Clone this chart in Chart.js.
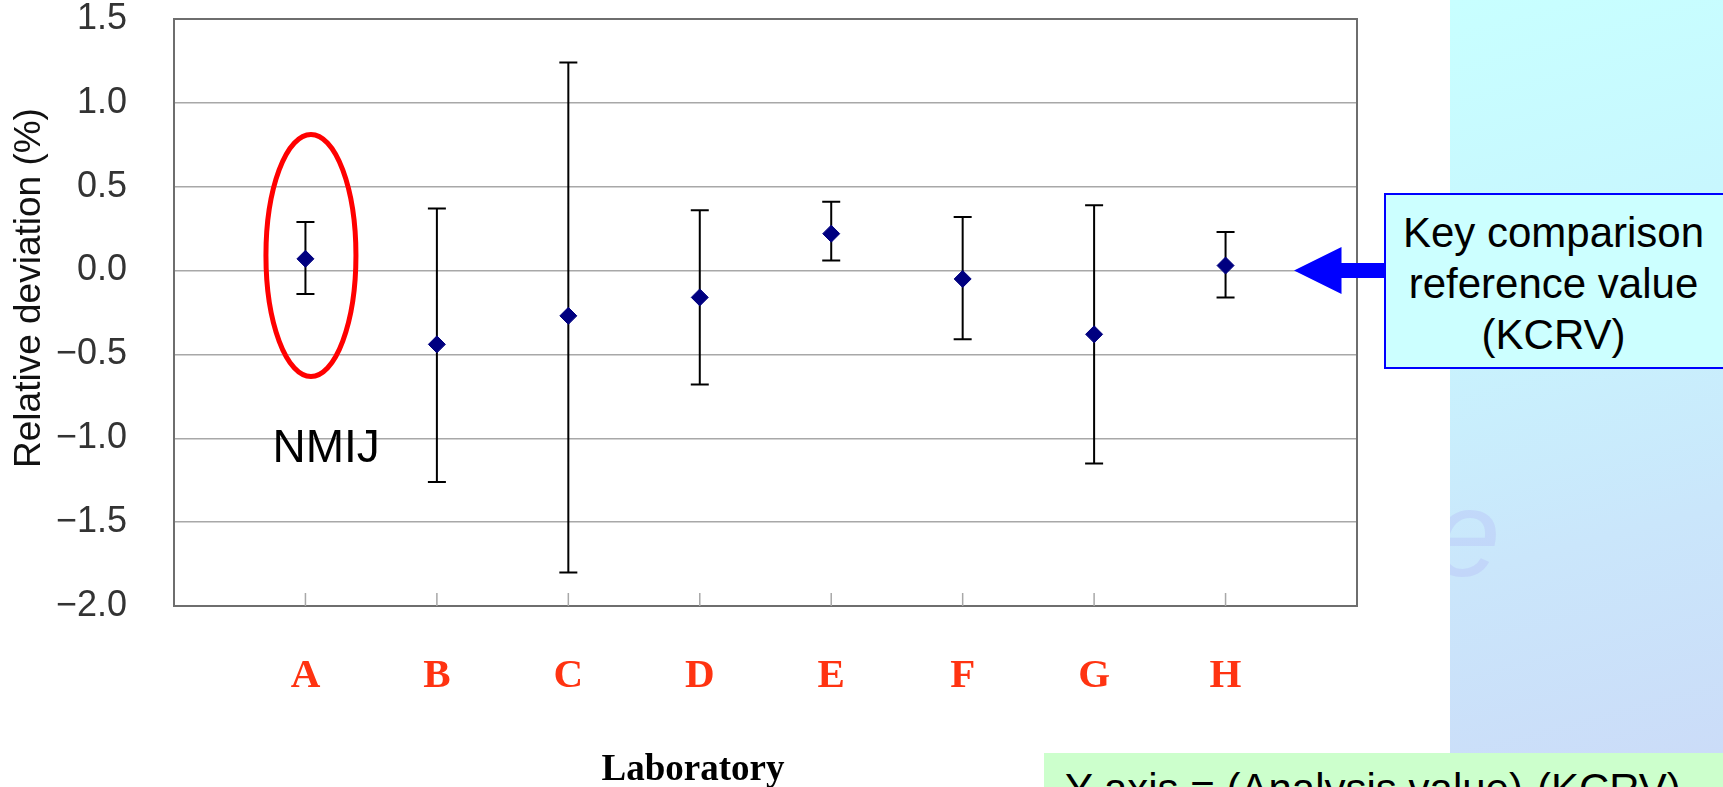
<!DOCTYPE html>
<html>
<head>
<meta charset="utf-8">
<title>Relative deviation by laboratory</title>
<script src="https://cdn.jsdelivr.net/npm/chart.js@4.4.0/dist/chart.umd.min.js"></script>
<style>
html, body { margin: 0; padding: 0; width: 1723px; height: 787px; overflow: hidden; background: #fff; }
#side {
  position: absolute; left: 1450px; top: 0; width: 273px; height: 753px; overflow: hidden;
  background: linear-gradient(165deg, #c8ffff 0%, #c8f6fe 35%, #cae6fb 70%, #cbdcf8 100%);
}
#side .mark {
  position: absolute; left: -18px; top: 472px;
  font: italic 123px "Liberation Sans", Arial, sans-serif; line-height: 123px;
  color: rgba(176, 178, 245, 0.3);
}
#plot { position: absolute; left: 0; top: 0; z-index: 1; }
#kcrv {
  position: absolute; left: 1384px; top: 193px; width: 342px; height: 176px;
  box-sizing: border-box; border: 2px solid #0000ff; background: #ccffff; z-index: 2;
  padding: 11.7px 3px 0 0;
  font: 42px "Liberation Sans", Arial, sans-serif; line-height: 51px; text-align: center; color: #000;
}
#note {
  position: absolute; left: 1044px; top: 753px; width: 690px; height: 60px;
  box-sizing: border-box; background: #ccffcc; z-index: 2;
  padding: 10px 0 0 21px; white-space: nowrap;
  font: 42px "Liberation Sans", Arial, sans-serif; line-height: 51px; color: #000;
}
</style>
</head>
<body>
<div id="side"><span class="mark">e</span></div>
<canvas id="plot" width="1723" height="787"></canvas>
<div id="kcrv">Key comparison<br>reference value<br>(KCRV)</div>
<div id="note">Y axis = (Analysis value)-(KCRV)</div>

<script>
'use strict';

// laboratories and their relative deviation from the KCRV (%), with uncertainty limits
const labs  = ['A', 'B', 'C', 'D', 'E', 'F', 'G', 'H'];
const devs  = [0.07, -0.44, -0.27, -0.16, 0.22, -0.05, -0.38, 0.03];
const lows  = [-0.14, -1.26, -1.80, -0.68, 0.06, -0.41, -1.15, -0.16];
const highs = [0.29, 0.37, 1.24, 0.36, 0.41, 0.32, 0.39, 0.23];
const yTicks = [-2.0, -1.5, -1.0, -0.5, 0.0, 0.5, 1.0, 1.5];
const kcrv = 0;

const sans = '"Liberation Sans", Arial, sans-serif';
const serif = '"Liberation Serif", "Times New Roman", serif';

// error bars, frame, inner ticks and the annotations around the plot
const extras = {
  id: 'extras',
  beforeDatasetsDraw(chart){
    const {ctx, chartArea: a, scales: {x, y}} = chart;
    ctx.save();

    // plot frame
    ctx.strokeStyle = '#6e6e6e';
    ctx.lineWidth = 2;
    ctx.strokeRect(a.left, a.top, a.right - a.left, a.bottom - a.top);

    // short ticks pointing into the plot
    ctx.strokeStyle = '#a8a8a8';
    ctx.lineWidth = 1.5;
    ctx.beginPath();
    labs.forEach((l, i)=>{
      const px = x.getPixelForValue(i + 1);
      ctx.moveTo(px, a.bottom);
      ctx.lineTo(px, a.bottom - 13);
    });
    ctx.stroke();

    // uncertainty bars
    ctx.strokeStyle = '#000';
    ctx.lineWidth = 2;
    ctx.beginPath();
    labs.forEach((l, i)=>{
      const px = x.getPixelForValue(i + 1);
      const top = y.getPixelForValue(highs[i]);
      const bot = y.getPixelForValue(lows[i]);
      ctx.moveTo(px, top); ctx.lineTo(px, bot);
      ctx.moveTo(px - 9, top); ctx.lineTo(px + 9, top);
      ctx.moveTo(px - 9, bot); ctx.lineTo(px + 9, bot);
    });
    ctx.stroke();
    ctx.restore();
  },
  afterDraw(chart){
    const {ctx, chartArea: a, scales: {x, y}} = chart;
    ctx.save();

    // ring around NMIJ (lab A)
    ctx.strokeStyle = '#ff0000';
    ctx.lineWidth = 5;
    ctx.beginPath();
    ctx.ellipse(x.getPixelForValue(1) + 5.5, y.getPixelForValue(0.09), 45, 121, 0, 0, Math.PI * 2);
    ctx.stroke();

    ctx.fillStyle = '#000';
    ctx.font = '46px ' + sans;
    ctx.textAlign = 'left';
    ctx.textBaseline = 'alphabetic';
    ctx.fillText('NMIJ', x.getPixelForValue(1) - 33, y.getPixelForValue(-1.14));

    // arrow pointing at the KCRV line
    const yk = y.getPixelForValue(kcrv);
    const tip = a.right - 63, base = a.right - 15.5, tail = a.right + 35;
    ctx.fillStyle = '#0000ff';
    ctx.beginPath();
    ctx.moveTo(tip, yk);
    ctx.lineTo(base, yk - 23.5);
    ctx.lineTo(base, yk - 7.5);
    ctx.lineTo(tail, yk - 7.5);
    ctx.lineTo(tail, yk + 7.5);
    ctx.lineTo(base, yk + 7.5);
    ctx.lineTo(base, yk + 23.5);
    ctx.closePath();
    ctx.fill();

    // axis titles
    ctx.fillStyle = '#111';
    ctx.font = '37px ' + sans;
    ctx.textAlign = 'center';
    ctx.save();
    ctx.translate(39.5, 288);
    ctx.rotate(-Math.PI / 2);
    ctx.fillText('Relative deviation (%)', 0, 0);
    ctx.restore();

    ctx.fillStyle = '#000';
    ctx.font = 'bold 37px ' + serif;
    ctx.fillText('Laboratory', 693, 780);
    ctx.restore();
  }
};

new Chart(document.getElementById('plot'), {
  type: 'scatter',
  data: {
    datasets: [{
      data: devs.map((v, i)=>({x: i + 1, y: v})),
      pointStyle: 'rectRot',
      pointRadius: 8.5,
      backgroundColor: '#000080',
      borderColor: '#000080',
      borderWidth: 1
    }]
  },
  options: {
    responsive: false,
    animation: false,
    devicePixelRatio: 1,
    layout: { padding: { top: 19, right: 366, bottom: 0, left: 0 } },
    plugins: { legend: { display: false }, tooltip: { enabled: false } },
    scales: {
      x: {
        type: 'linear', min: 0, max: 9,
        afterBuildTicks: s=>{ s.ticks = labs.map((l, i)=>({value: i + 1})); },
        afterFit: s=>{ s.height = 181; },
        grid: { display: false, drawTicks: false },
        border: { display: false },
        ticks: {
          autoSkip: false, maxRotation: 0, padding: 46, color: '#ff3311',
          font: { family: serif, weight: 'bold', size: 41 },
          callback: v=>labs[v - 1] || ''
        }
      },
      y: {
        min: -2, max: 1.5,
        afterBuildTicks: s=>{ s.ticks = yTicks.map(v=>({value: v})); },
        // fixed gutter; the wide label padding must not push the plot top down
        afterFit: s=>{ s.width = 174; s.paddingTop = 18; s.paddingBottom = 18; },
        grid: { color: '#a8a8a8', lineWidth: 1.5, drawTicks: false },
        border: { display: false },
        ticks: {
          padding: 47, color: '#333',
          font: { family: sans, size: 36, lineHeight: 1 },
          callback: v=>(v < 0 ? '\u2212' : '') + Math.abs(v).toFixed(1)
        }
      }
    }
  },
  plugins: [extras]
});
</script>
</body>
</html>
